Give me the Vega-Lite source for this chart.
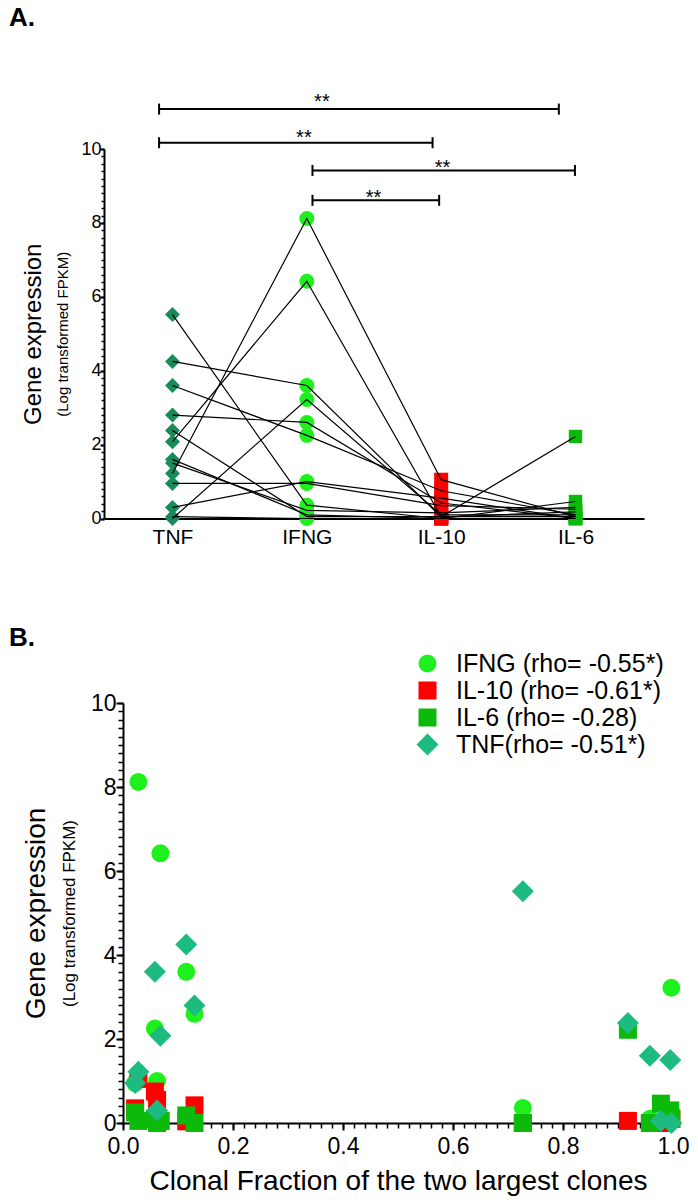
{
  "$schema": "https://vega.github.io/schema/vega-lite/v6.json",
  "background": "white",
  "padding": {"left": 8, "top": 5, "right": 2, "bottom": 2},
  "datasets": {
    "subjects": [
      {"subject": 1, "cf": 0.022, "TNF": 0.95, "IFNG": 0.95, "IL-10": 0.35, "IL-6": 0.25},
      {"subject": 2, "cf": 0.028, "TNF": 1.22, "IFNG": 8.12, "IL-10": 1.05, "IL-6": 0.05},
      {"subject": 3, "cf": 0.058, "TNF": 3.6, "IFNG": 2.25, "IL-10": 0.75, "IL-6": 0.1},
      {"subject": 4, "cf": 0.062, "TNF": 0.3, "IFNG": 1.0, "IL-10": 0.55, "IL-6": 0.0},
      {"subject": 5, "cf": 0.068, "TNF": 2.08, "IFNG": 6.42, "IL-10": 0.05, "IL-6": 0.05},
      {"subject": 6, "cf": 0.115, "TNF": 4.25, "IFNG": 3.6, "IL-10": 0.04, "IL-6": 0.18},
      {"subject": 7, "cf": 0.13, "TNF": 2.8, "IFNG": 2.6, "IL-10": 0.42, "IL-6": 0.0},
      {"subject": 8, "cf": 0.727, "TNF": 5.52, "IFNG": 0.36, "IL-10": 0.0, "IL-6": 0.0},
      {"subject": 9, "cf": 0.918, "TNF": 2.38, "IFNG": 0.05, "IL-10": 0.05, "IL-6": 2.22},
      {"subject": 10, "cf": 0.958, "TNF": 1.6, "IFNG": 0.1, "IL-10": 0.0, "IL-6": 0.0},
      {"subject": 11, "cf": 0.978, "TNF": 0.05, "IFNG": 0.0, "IL-10": 0.0, "IL-6": 0.46},
      {"subject": 12, "cf": 0.997, "TNF": 0.0, "IFNG": 3.22, "IL-10": 0.1, "IL-6": 0.1},
      {"subject": 13, "cf": 0.995, "TNF": 1.5, "IFNG": 0.22, "IL-10": 0.15, "IL-6": 0.3}
    ],
    "genes": [
      {"gene": "TNF", "col": 1},
      {"gene": "IFNG", "col": 2},
      {"gene": "IL-10", "col": 3},
      {"gene": "IL-6", "col": 4}
    ],
    "sig": [
      {"from": 0.9, "to": 3.876, "level": 11.08, "star_x": 2.112, "star_y": 11.11, "label": "**"},
      {"from": 0.9, "to": 2.936, "level": 10.17, "star_x": 1.978, "star_y": 10.14, "label": "**"},
      {"from": 2.042, "to": 3.996, "level": 9.42, "star_x": 3.01, "star_y": 9.33, "label": "**"},
      {"from": 2.042, "to": 2.985, "level": 8.61, "star_x": 2.497, "star_y": 8.52, "label": "**"}
    ]
  },
  "concat": [
    {
      "width": 540,
      "height": 369.5,
      "resolve": {"axis": {"x": "independent", "y": "independent"}},
      "layer": [
        {
          "data": {"name": "subjects"},
          "transform": [
            {"fold": ["TNF", "IFNG", "IL-10", "IL-6"], "as": ["gene", "value"]},
            {"lookup": "gene", "from": {"data": {"name": "genes"}, "key": "gene", "fields": ["col"]}}
          ],
          "mark": {"type": "point", "filled": true, "opacity": 1, "strokeWidth": 0},
          "encoding": {
            "x": {"field": "col", "type": "quantitative", "scale": {"domain": [0.49, 4.51]},
              "axis": {"orient": "bottom", "values": [1, 2, 3, 4], "labelFlush": false,
                "labelExpr": "datum.value == 1 ? 'TNF' : datum.value == 2 ? 'IFNG' : datum.value == 3 ? 'IL-10' : 'IL-6'",
                "ticks": false, "tickSize": 0, "labelPadding": 8, "labelFontSize": 21, "title": null}},
            "y": {"field": "value", "type": "quantitative", "scale": {"domain": [0, 10]},
              "axis": {"orient": "left", "values": [0, 2, 4, 6, 8, 10], "tickSize": 4, "labelPadding": -1, "labelFontSize": 18,
                "title": "Gene expression", "titleFontSize": 24, "titlePadding": 35}},
            "color": {"field": "gene", "type": "nominal",
              "scale": {"domain": ["IFNG", "IL-10", "IL-6", "TNF"], "range": ["#1ef01e", "#ff0000", "#0cba0c", "#1a8a5c"]}, "legend": null},
            "shape": {"field": "gene", "type": "nominal",
              "scale": {"domain": ["IFNG", "IL-10", "IL-6", "TNF"], "range": ["circle", "square", "square", "diamond"]}, "legend": null},
            "size": {"field": "gene", "type": "nominal",
              "scale": {"type": "ordinal", "domain": ["IFNG", "IL-10", "IL-6", "TNF"], "range": [225, 196, 180, 225]}, "legend": null}
          }
        },
        {
          "data": {"name": "subjects"},
          "transform": [
            {"fold": ["TNF", "IFNG", "IL-10", "IL-6"], "as": ["gene", "value"]},
            {"lookup": "gene", "from": {"data": {"name": "genes"}, "key": "gene", "fields": ["col"]}}
          ],
          "mark": {"type": "line", "color": "black", "strokeWidth": 1.2},
          "encoding": {
            "x": {"field": "col", "type": "quantitative", "scale": {"domain": [0.49, 4.51]}, "axis": null},
            "y": {"field": "value", "type": "quantitative", "scale": {"domain": [0, 10]},
              "axis": {"orient": "left", "tickCount": 50, "labels": false, "domain": false, "tickSize": 3, "tickWidth": 1.5,
                "title": "(Log transformed FPKM)", "titleFontSize": 15, "titlePadding": 30}},
            "detail": {"field": "subject", "type": "nominal"},
            "order": {"field": "col", "type": "quantitative"}
          }
        },
        {
          "data": {"name": "sig"},
          "mark": {"type": "rule", "color": "black", "strokeWidth": 2},
          "encoding": {
            "x": {"field": "from", "type": "quantitative", "scale": {"domain": [0.49, 4.51]}, "axis": null},
            "x2": {"field": "to"},
            "y": {"field": "level", "type": "quantitative", "scale": {"domain": [0, 10]}, "axis": null}
          }
        },
        {
          "data": {"name": "sig"},
          "transform": [{"fold": ["from", "to"], "as": ["end", "xpos"]}],
          "mark": {"type": "tick", "orient": "vertical", "color": "black", "size": 11, "thickness": 2, "opacity": 1},
          "encoding": {
            "x": {"field": "xpos", "type": "quantitative", "scale": {"domain": [0.49, 4.51]}, "axis": null},
            "y": {"field": "level", "type": "quantitative", "scale": {"domain": [0, 10]}, "axis": null}
          }
        },
        {
          "data": {"name": "sig"},
          "mark": {"type": "text", "font": "Liberation Sans", "fontSize": 20, "align": "center", "baseline": "alphabetic", "color": "black"},
          "encoding": {
            "x": {"field": "star_x", "type": "quantitative", "scale": {"domain": [0.49, 4.51]}, "axis": null},
            "y": {"field": "star_y", "type": "quantitative", "scale": {"domain": [0, 10]}, "axis": null},
            "text": {"field": "label"}
          }
        },
        {
          "data": {"values": [{"panel": "A.", "px": -0.217, "py": 13.32}]},
          "mark": {"type": "text", "font": "Liberation Sans", "fontSize": 26, "fontWeight": "bold", "align": "left", "baseline": "alphabetic", "color": "black"},
          "encoding": {
            "x": {"field": "px", "type": "quantitative", "scale": {"domain": [0.49, 4.51]}, "axis": null},
            "y": {"field": "py", "type": "quantitative", "scale": {"domain": [0, 10]}, "axis": null},
            "text": {"field": "panel"}
          }
        }
      ]
    },
    {
      "width": 569,
      "height": 420,
      "resolve": {"axis": {"x": "independent", "y": "independent"}},
      "layer": [
        {
          "data": {"name": "subjects"},
          "transform": [{"fold": ["IFNG", "IL-10", "IL-6", "TNF"], "as": ["gene", "value"]}],
          "mark": {"type": "point", "filled": true, "opacity": 1, "strokeWidth": 0},
          "encoding": {
            "x": {"field": "cf", "type": "quantitative", "scale": {"domain": [0, 1], "range": [19, 569]},
              "axis": {"orient": "bottom", "values": [0, 0.2, 0.4, 0.6, 0.8, 1.0], "format": ".1f", "labelFlush": false, "tickSize": 7, "labelPadding": 5,
                "labelFontSize": 23, "title": "Clonal Fraction of the two largest clones", "titleFontSize": 28, "titlePadding": 9}},
            "y": {"field": "value", "type": "quantitative", "scale": {"domain": [0, 10]},
              "axis": {"orient": "left", "offset": -19, "values": [0, 2, 4, 6, 8, 10], "tickSize": 7, "labelPadding": 0, "labelFontSize": 23,
                "title": "Gene expression", "titleFontSize": 28, "titlePadding": 40}},
            "color": {"field": "gene", "type": "nominal",
              "scale": {"domain": ["IFNG", "IL-10", "IL-6", "TNF"], "range": ["#1ef01e", "#ff0000", "#0cba0c", "#1dbb80"]},
              "legend": {"orient": "none", "legendX": 311, "legendY": -52, "title": null, "labelFontSize": 25, "labelOffset": 16,
                "labelLimit": 400, "rowPadding": 1, "padding": 0, "symbolStrokeWidth": 0,
                "labelExpr": "datum.label == 'IFNG' ? 'IFNG (rho= -0.55*)' : datum.label == 'IL-10' ? 'IL-10 (rho= -0.61*)' : datum.label == 'IL-6' ? 'IL-6 (rho= -0.28)' : 'TNF(rho= -0.51*)'"}},
            "shape": {"field": "gene", "type": "nominal",
              "scale": {"domain": ["IFNG", "IL-10", "IL-6", "TNF"], "range": ["circle", "square", "square", "diamond"]},
              "legend": {"orient": "none", "legendX": 311, "legendY": -52, "title": null, "labelFontSize": 25, "labelOffset": 16,
                "labelLimit": 400, "rowPadding": 1, "padding": 0, "symbolStrokeWidth": 0,
                "labelExpr": "datum.label == 'IFNG' ? 'IFNG (rho= -0.55*)' : datum.label == 'IL-10' ? 'IL-10 (rho= -0.61*)' : datum.label == 'IL-6' ? 'IL-6 (rho= -0.28)' : 'TNF(rho= -0.51*)'"}},
            "size": {"field": "gene", "type": "nominal",
              "scale": {"type": "ordinal", "domain": ["IFNG", "IL-10", "IL-6", "TNF"], "range": [324, 324, 324, 484]},
              "legend": {"orient": "none", "legendX": 311, "legendY": -52, "title": null, "labelFontSize": 25, "labelOffset": 16,
                "labelLimit": 400, "rowPadding": 1, "padding": 0, "symbolStrokeWidth": 0,
                "labelExpr": "datum.label == 'IFNG' ? 'IFNG (rho= -0.55*)' : datum.label == 'IL-10' ? 'IL-10 (rho= -0.61*)' : datum.label == 'IL-6' ? 'IL-6 (rho= -0.28)' : 'TNF(rho= -0.51*)'"}},
            "order": {"field": "gene", "type": "ordinal"}
          }
        },
        {
          "data": {"values": [{"panel": "B.", "px": -0.2073, "py": 11.36}]},
          "mark": {"type": "text", "font": "Liberation Sans", "fontSize": 26, "fontWeight": "bold", "align": "left", "baseline": "alphabetic", "color": "black"},
          "encoding": {
            "x": {"field": "px", "type": "quantitative", "scale": {"domain": [0, 1], "range": [19, 569]},
              "axis": {"orient": "bottom", "tickCount": 50, "labels": false, "domain": false, "tickSize": 5, "tickWidth": 1.5, "title": null}},
            "y": {"field": "py", "type": "quantitative", "scale": {"domain": [0, 10]},
              "axis": {"orient": "left", "offset": -19, "tickCount": 50, "labels": false, "domain": false, "tickSize": 5, "tickWidth": 1.5,
                "title": "(Log transformed FPKM)", "titleFontSize": 17, "titlePadding": 39}},
            "text": {"field": "panel"}
          }
        }
      ]
    }
  ],
  "columns": 1,
  "spacing": 76,
  "resolve": {"scale": {"color": "independent", "shape": "independent", "size": "independent"}},
  "config": {
    "font": "Liberation Sans",
    "view": {"stroke": null},
    "axis": {"grid": false, "labelFont": "Liberation Sans", "titleFont": "Liberation Sans", "titleFontWeight": "normal",
      "labelColor": "#000000", "titleColor": "#000000", "domainColor": "#000000", "tickColor": "#000000",
      "domainWidth": 2, "tickWidth": 2},
    "legend": {"labelFont": "Liberation Sans", "labelColor": "#000000"}
  }
}
